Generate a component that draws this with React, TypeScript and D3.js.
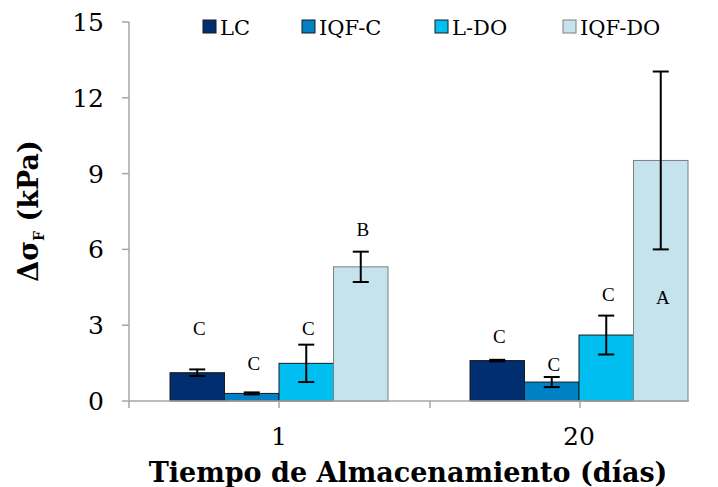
import React from "react";
import * as d3 from "d3";

const categories = ["1", "20"];
const series = ["LC", "IQF-C", "L-DO", "IQF-DO"];
const colors = ["#002E6E", "#0081C6", "#00BEF0", "#C4E3EC"];
const strokes = ["#1a1a1a", "#1a1a1a", "#1a1a1a", "#7f7f7f"];
// values[series][category]
const valuesLC = [1.12, 1.6];
const valuesIQFC = [0.3, 0.75];
const valuesLDO = [1.49, 2.61];
const valuesIQFDO = [5.31, 9.52];
const errLC = [0.13, 0.03];
const errIQFC = [0.04, 0.2];
const errLDO = [0.74, 0.77];
const errIQFDO = [0.6, 3.52];
const lettersLC = ["C", "C"];
const lettersIQFC = ["C", "C"];
const lettersLDO = ["C", "C"];
const lettersIQFDO = ["B", "A"];
// label anchor (in data units, centre of the letter)
const letterPosLC = [2.85, 2.57];
const letterPosIQFC = [1.5, 1.46];
const letterPosLDO = [2.85, 4.2];
const letterPosIQFDO = [6.8, 4.08];
const yTicks = [0, 3, 6, 9, 12, 15];

const values = [valuesLC, valuesIQFC, valuesLDO, valuesIQFDO];
const errs = [errLC, errIQFC, errLDO, errIQFDO];
const letters = [lettersLC, lettersIQFC, lettersLDO, lettersIQFDO];
const letterPos = [letterPosLC, letterPosIQFC, letterPosLDO, letterPosIQFDO];

const W = 718;
const H = 487;
const axisLeft = 129;
const axisRight = 689;
const y0 = 401;
const yTop = 22;

export default function App() {
  const y = d3.scaleLinear().domain([0, 15]).range([y0, yTop]);
  const x = d3.scaleBand<string>().domain(categories).range([axisLeft, axisLeft + 600]).paddingInner(0).paddingOuter(0);
  const groupW = 218;
  const xs = d3.scaleBand<string>().domain(series).range([-groupW / 2, groupW / 2]).padding(0);
  const font = "'DejaVu Serif', serif";
  const letterFont = "'Liberation Serif', 'Times New Roman', serif";
  const xTickPos = [axisLeft, axisLeft + 150, axisLeft + 301, axisLeft + 451];
  const legendX = [203, 302, 435, 563];

  return (
    <svg width={W} height={H} style={{ position: "absolute", left: 0, top: 0, background: "#fff" }} fontFamily={font}>
      <rect x={0} y={0} width={W} height={H} fill="#fff" />
      {/* y axis */}
      <line x1={axisLeft} x2={axisLeft} y1={y(15)} y2={y0} stroke="#A6A6A6" strokeWidth={1.5} />
      {yTicks.map((t) => (
        <g key={t}>
          <line x1={axisLeft - 7} x2={axisLeft} y1={y(t)} y2={y(t)} stroke="#A6A6A6" strokeWidth={1.5} />
          <text x={104} y={y(t)} dy="0.36em" textAnchor="end" fontSize={25} fill="#000">
            {t}
          </text>
        </g>
      ))}
      {/* bars */}
      {categories.map((c, ci) => {
        const cx = (x(c) as number) + x.bandwidth() / 2;
        return (
          <g key={c}>
            {series.map((s, si) => {
              const bx = cx + (xs(s) as number);
              const v = values[si][ci];
              const e = errs[si][ci];
              const mx = bx + xs.bandwidth() / 2;
              return (
                <g key={s}>
                  <rect x={bx} y={y(v)} width={xs.bandwidth()} height={y0 - y(v)} fill={colors[si]} stroke={strokes[si]} strokeWidth={1} />
                  <line x1={mx} x2={mx} y1={y(v + e)} y2={y(v - e)} stroke="#000" strokeWidth={2} />
                  <line x1={mx - 8} x2={mx + 8} y1={y(v + e)} y2={y(v + e)} stroke="#000" strokeWidth={2} />
                  <line x1={mx - 8} x2={mx + 8} y1={y(v - e)} y2={y(v - e)} stroke="#000" strokeWidth={2} />
                </g>
              );
            })}
          </g>
        );
      })}
      {/* letters */}
      {categories.map((c, ci) => {
        const cx = (x(c) as number) + x.bandwidth() / 2;
        return series.map((s, si) => {
          const mx = cx + (xs(s) as number) + xs.bandwidth() / 2;
          return (
            <text key={c + s} x={mx + 2} y={y(letterPos[si][ci])} dy="0.34em" textAnchor="middle" fontSize={19} fontFamily={letterFont} fill="#000">
              {letters[si][ci]}
            </text>
          );
        });
      })}
      {/* x axis */}
      <line x1={axisLeft} x2={axisRight} y1={y0} y2={y0} stroke="#A6A6A6" strokeWidth={1.5} />
      {xTickPos.map((p, i) => (
        <line key={i} x1={p} x2={p} y1={y0} y2={y0 + 7} stroke="#A6A6A6" strokeWidth={1.5} />
      ))}
      {categories.map((c) => (
        <text key={c} x={(x(c) as number) + x.bandwidth() / 2} y={436} dy="0.36em" textAnchor="middle" fontSize={25} fill="#000">
          {c}
        </text>
      ))}
      {/* axis titles */}
      <text x={408} y={472} dy="0.36em" textAnchor="middle" fontSize={27} fontWeight="bold" fill="#000">
        Tiempo de Almacenamiento (días)
      </text>
      <text transform={`translate(28,211) rotate(-90)`} dy="0.36em" textAnchor="middle" fontSize={27} fontWeight="bold" fill="#000">
        Δσ<tspan fontSize={14} dy="6">F</tspan>
        <tspan dy="-6">{"\u00A0(kPa)"}</tspan>
      </text>
      {/* legend */}
      {series.map((s, si) => (
        <g key={s}>
          <rect x={legendX[si]} y={20} width={13} height={13} fill={colors[si]} stroke={strokes[si]} strokeWidth={1} />
          <text x={legendX[si] + 17} y={27} dy="0.36em" fontSize={21} fill="#000">
            {s}
          </text>
        </g>
      ))}
    </svg>
  );
}
